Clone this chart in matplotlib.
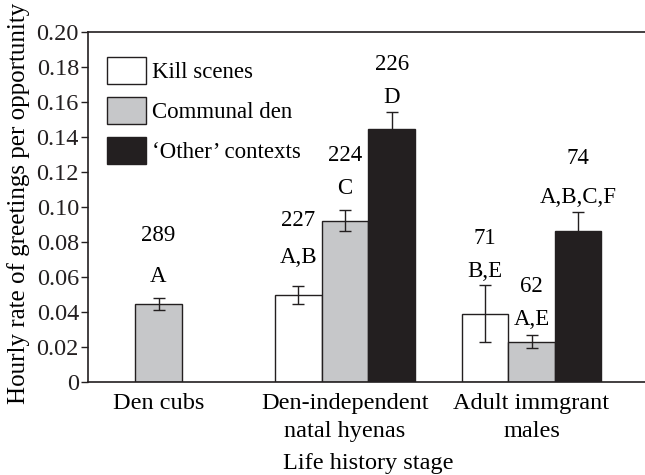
import matplotlib
matplotlib.use("Agg")
import matplotlib.pyplot as plt
import numpy as np

# ---- data ----
groups = ["Den cubs", "Den-independent\nnatal hyenas", "Adult immgrant\nmales"]
series = ["Kill scenes", "Communal den", "\u2018Other\u2019 contexts"]
kill = [np.nan, 0.0495, 0.039]
kill_err = [np.nan, 0.005, 0.0162]
den = [0.0444, 0.092, 0.0229]
den_err = [0.0035, 0.006, 0.0037]
other = [np.nan, 0.1444, 0.0863]
other_err = [np.nan, 0.010, 0.0108]
kill_n = [None, "227", "71"]
kill_sig = [None, "A,B", "B,E"]
den_n = ["289", "224", "62"]
den_sig = ["A", "C", "A,E"]
other_n = [None, "226", "74"]
other_sig = [None, "D", "A,B,C,F"]
yticks = [0, 0.02, 0.04, 0.06, 0.08, 0.10, 0.12, 0.14, 0.16, 0.18, 0.20]
ytick_labels = ["0", "0.02", "0.04", "0.06", "0.08", "0.10", "0.12", "0.14", "0.16", "0.18", "0.20"]

# ---- style ----
W, H, DPI = 645, 475, 100
FS = 17.5
FS_ANN = 16.5
colors = ["#ffffff", "#c6c7c9", "#231f20"]
edge = "#231f20"
width = 0.25
# label offsets (pixels): letter above error-bar top, count above letter
sig_off = {"kill": [0, 29, 14], "den": [21, 22, 16], "other": [0, 14, 14]}
n_off = {"kill": [0, 37, 33], "den": [41, 33, 33], "other": [0, 33, 39]}

plt.rcParams["font.family"] = ["Liberation Serif", "DejaVu Serif"]
plt.rcParams["font.size"] = FS

fig = plt.figure(figsize=(W / DPI, H / DPI), dpi=DPI)
ax = fig.add_axes([88 / W, 1 - 381.7 / H, 1 - 88 / W, (381.7 - 32) / H])

x = np.arange(len(groups))
offsets = [-width, 0, width]
all_series = [(kill, kill_err, kill_n, kill_sig, "kill"),
              (den, den_err, den_n, den_sig, "den"),
              (other, other_err, other_n, other_sig, "other")]
handles = []
for i, (vals, errs, ns, sigs, key) in enumerate(all_series):
    xs = x + offsets[i]
    b = ax.bar(xs, vals, width, color=colors[i], edgecolor=edge, linewidth=1.0,
               label=series[i], zorder=2)
    handles.append(b)
    ax.errorbar(xs, vals, yerr=errs, fmt="none", ecolor=edge, elinewidth=1.0,
                capsize=4, capthick=1.0, zorder=3)
    for j in range(len(groups)):
        if ns[j] is None:
            continue
        top = vals[j] + errs[j]
        so = sig_off[key][j] * 72 / DPI
        no = n_off[key][j] * 72 / DPI
        ax.annotate(sigs[j], (xs[j], top), xytext=(0, so), textcoords="offset points",
                    ha="center", va="center", fontsize=FS_ANN)
        ax.annotate(ns[j], (xs[j], top), xytext=(0, so + no), textcoords="offset points",
                    ha="center", va="center", fontsize=FS_ANN)

ax.set_xlim((88 - 158.5) / 186.5, (645 - 158.5) / 186.5)
ax.set_ylim(0, 0.20)
ax.set_yticks(yticks)
ax.set_yticklabels(ytick_labels)
ax.set_xticks(x)
ax.set_xticklabels(groups, linespacing=1.45)
ax.tick_params(axis="x", length=0, pad=8)
ax.tick_params(axis="y", direction="out", length=5, width=1, pad=1.5, colors="#231f20")
for s in ["left", "bottom", "top"]:
    ax.spines[s].set_linewidth(1.2)
    ax.spines[s].set_color("#231f20")
ax.spines["right"].set_visible(False)

fig.text(19 / W, 1 - 203 / H, "Hourly rate of greetings per opportunity", rotation=90,
         ha="center", va="center", fontsize=18)
fig.text(368 / W, 1 - 464 / H, "Life history stage", ha="center", va="center", fontsize=FS)

leg = ax.legend(handles=handles, loc="upper left",
                bbox_to_anchor=(107 / W, 1 - 57 / H), bbox_transform=fig.transFigure,
                frameon=False, borderpad=0, borderaxespad=0,
                handlelength=1.71, handleheight=1.45, labelspacing=0.55,
                handletextpad=0.27, fontsize=FS_ANN)

fig.savefig("out.png", dpi=DPI)
